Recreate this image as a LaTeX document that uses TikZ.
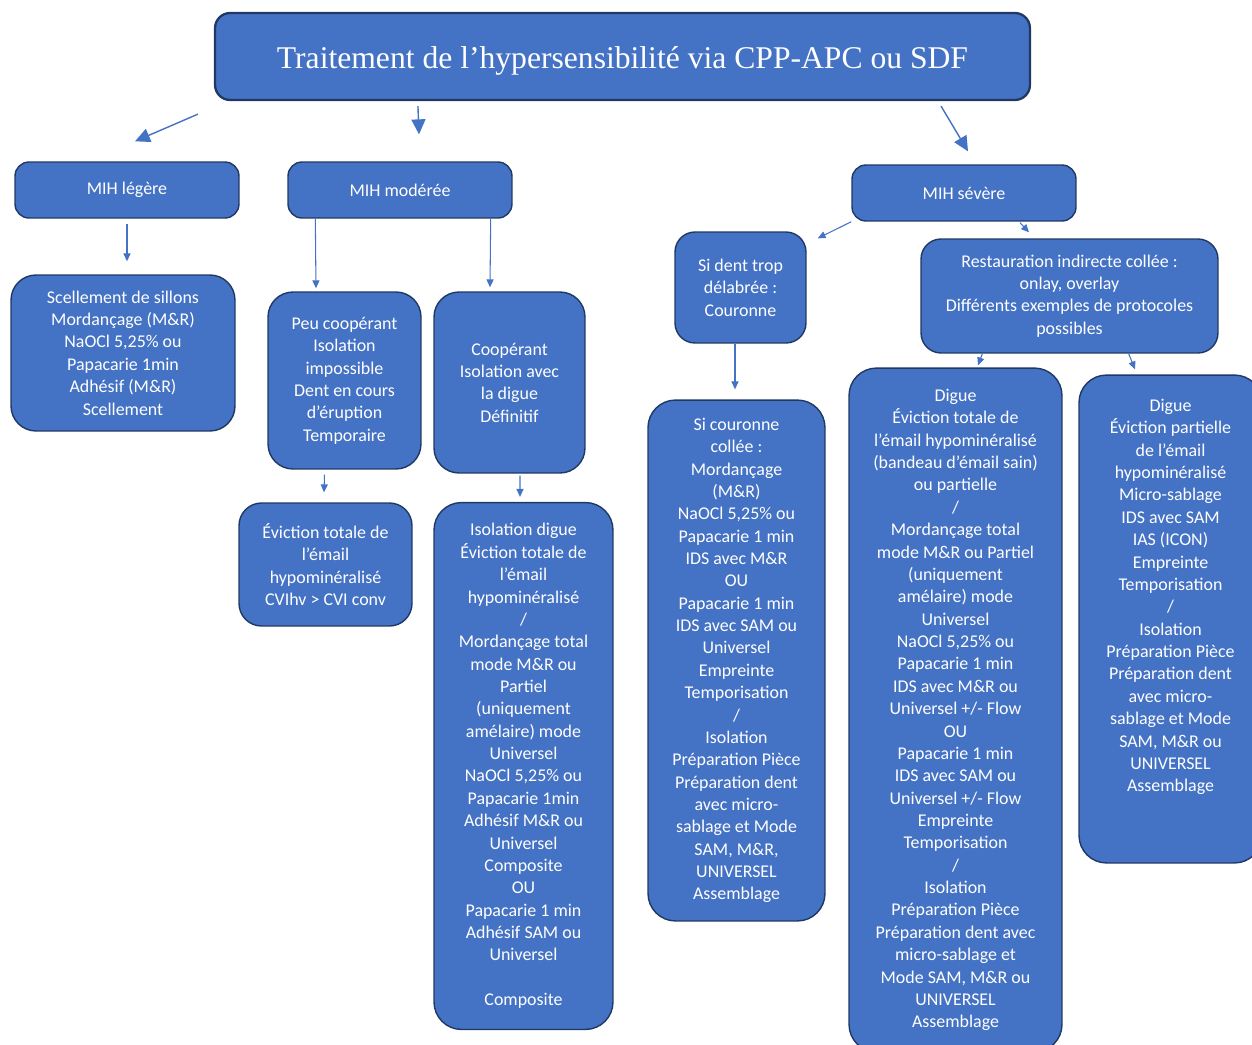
\documentclass[tikz,border=0pt]{standalone}
\usepackage{fontspec}
\setmainfont{Liberation Serif}
\newfontfamily\boxfont{Carlito}
\usepackage{xcolor}
\usepackage{tikz}
\usetikzlibrary{calc,arrows.meta}

\definecolor{boxfill}{HTML}{4472C4}
\definecolor{boxline}{HTML}{203864}
\definecolor{arrowblue}{HTML}{4472C4}

\tikzset{
  box/.style={draw=boxline, fill=boxfill, line width=0.8pt, rounded corners=0.28cm,
    text=white, align=center, inner sep=0pt, font=\boxfont\fontsize{10.2}{12.73}\selectfont},
  tallbox/.style={box, rounded corners=0.55cm},
  arr/.style={draw=arrowblue, line width=0.6pt, -{Triangle[length=4.5pt,width=4pt]}},
  bigarr/.style={arr, line width=0.8pt, -{Triangle[length=8.5pt,width=8pt]}}
}

\begin{document}
\begin{tikzpicture}[x=0.02cm,y=-0.02cm]
\useasboundingbox (0,0) rectangle (1252,1045);
\clip (0,0) rectangle (1252,1045);

% titre
\node[box, line width=1.3pt, minimum width=16.3cm, minimum height=1.74cm, rounded corners=0.3cm,
  font=\fontsize{18}{21}\selectfont] (title) at (622.5,56.5)
  {\raisebox{-2.3pt}[\height][\depth]{Traitement de l’hypersensibilité via CPP-APC ou SDF}};

% niveaux MIH
\node[box, minimum width=4.48cm, minimum height=1.12cm] (legere) at (127,190) {MIH légère};
\node[box, minimum width=4.48cm, minimum height=1.12cm] (moderee) at (400,190) {MIH modérée};
\node[box, minimum width=4.48cm, minimum height=1.12cm] (severe) at (964,193) {MIH sévère};

% MIH legere
\node[box, minimum width=4.48cm, minimum height=3.12cm, rounded corners=0.5cm] (scell) at (123,353)
  {Scellement de sillons\\Mordançage (M\&R)\\NaOCl 5,25\% ou\\Papacarie 1min\\Adhésif (M\&R)\\Scellement};

% MIH moderee
\node[box, minimum width=3.06cm, minimum height=3.54cm, rounded corners=0.5cm] (peu) at (344.5,380.5)
  {Peu coopérant\\Isolation\\impossible\\Dent en cours\\d’éruption\\Temporaire};
\node[box, minimum width=3.02cm, minimum height=3.62cm, rounded corners=0.5cm] (coop) at (509.5,382.5)
  {Coopérant\\Isolation avec\\la digue\\Définitif};
\node[box, minimum width=3.46cm, minimum height=2.46cm, rounded corners=0.45cm] (evic) at (325.5,564.5)
  {Éviction totale de\\l’émail\\hypominéralisé\\CVIhv > CVI conv};
\node[tallbox, minimum width=3.58cm, minimum height=10.54cm] (isodig) at (523.5,766)
  {Isolation digue\\Éviction totale de\\l’émail\\hypominéralisé\\/\\Mordançage total\\mode M\&R ou\\Partiel\\(uniquement\\amélaire) mode\\Universel\\NaOCl 5,25\% ou\\Papacarie 1min\\Adhésif M\&R ou\\Universel\\Composite\\OU\\Papacarie 1 min\\Adhésif SAM ou\\Universel\\[12.73pt]Composite};

% MIH severe
\node[box, minimum width=2.62cm, minimum height=2.22cm, rounded corners=0.4cm] (dent) at (740.5,287.5)
  {Si dent trop\\délabrée :\\Couronne};
\node[tallbox, minimum width=3.54cm, minimum height=10.42cm] (cour) at (736.5,660.5)
  {Si couronne\\collée :\\Mordançage\\(M\&R)\\NaOCl 5,25\% ou\\Papacarie 1 min\\IDS avec M\&R\\OU\\Papacarie 1 min\\IDS avec SAM ou\\Universel\\Empreinte\\Temporisation\\/\\Isolation\\Préparation Pièce\\Préparation dent\\avec micro-\\sablage et Mode\\SAM, M\&R,\\UNIVERSEL\\Assemblage};
\node[box, minimum width=5.94cm, minimum height=2.28cm, rounded corners=0.4cm] (resto) at (1069.5,296)
  {Restauration indirecte collée :\\onlay, overlay\\Différents exemples de protocoles\\possibles};
\node[tallbox, minimum width=4.26cm, minimum height=13.68cm] (digue) at (955.5,710)
  {Digue\\Éviction totale de\\l’émail hypominéralisé\\(bandeau d’émail sain)\\ou partielle\\/\\Mordançage total\\mode M\&R ou Partiel\\(uniquement\\amélaire) mode\\Universel\\NaOCl 5,25\% ou\\Papacarie 1 min\\IDS avec M\&R ou\\Universel +/- Flow\\OU\\Papacarie 1 min\\IDS avec SAM ou\\Universel +/- Flow\\Empreinte\\Temporisation\\/\\Isolation\\Préparation Pièce\\Préparation dent avec\\micro-sablage et\\Mode SAM, M\&R ou\\UNIVERSEL\\Assemblage};
\node[tallbox, minimum width=3.66cm, minimum height=9.76cm] (digpart) at (1170.5,619) {};
\node[text=white, align=center, font=\boxfont\fontsize{10.2}{12.73}\selectfont] (digparttxt) at (1170.5,597)
  {Digue\\Éviction partielle\\de l’émail\\hypominéralisé\\Micro-sablage\\IDS avec SAM\\IAS (ICON)\\Empreinte\\Temporisation\\/\\Isolation\\Préparation Pièce\\Préparation dent\\avec micro-\\sablage et Mode\\SAM, M\&R ou\\UNIVERSEL\\Assemblage};

% fleches
\draw[bigarr] ($(title.south west)+(-16,13)$) -- ($(legere.north)+(8,-20)$);
\draw[bigarr] ($(title.south west)+(204,5)$) -- ($(moderee.north)+(19,-27)$);
\draw[bigarr] ($(title.south east)+(-90,5)$) -- ($(severe.north)+(4,-13)$);
\draw[arr] ($(legere.south)+(0,5)$) -- ($(scell.north)+(4,-13)$);
\draw[arr] ($(moderee.south west)+(28,0)$) -- ($(peu.north)+(-28.5,-3)$);
\draw[arr] ($(moderee.south east)+(-22,0)$) -- ($(coop.north)+(-19.5,-4)$);
\draw[arr] ($(peu.south)+(-20,5)$) -- ($(evic.north)+(-1.5,-10)$);
\draw[arr] ($(coop.south)+(10.5,2)$) -- ($(isodig.north)+(-3.5,-5)$);
\draw[arr] (severe.south west) -- ($(dent.north east)+(11,7)$);
\draw[arr] ($(severe.south)+(56,1)$) -- ($(resto.north)+(-40.5,-6)$);
\draw[arr] ($(dent.south)+(-5.5,0)$) -- ($(cour.north)+(-1.5,-10)$);
\draw[arr] ($(resto.south west)+(62,0)$) -- ($(digue.north)+(22.5,-2)$);
\draw[arr] ($(resto.south east)+(-90,0)$) -- ($(digpart.north)+(-35.5,-5)$);
\end{tikzpicture}
\end{document}
